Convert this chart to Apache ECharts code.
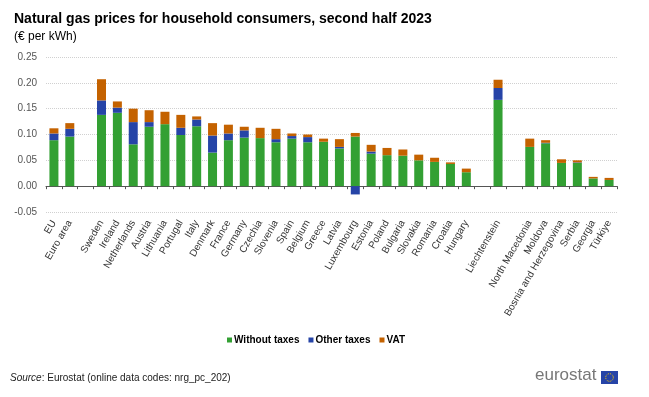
<!DOCTYPE html>
<html>
<head>
<meta charset="utf-8">
<script src="https://cdn.jsdelivr.net/npm/echarts@6/dist/echarts.min.js"></script>
<style>
  html, body { margin: 0; padding: 0; background: #fff; }
  #chart { width: 649px; height: 397px; }
</style>
</head>
<body>
<div id="chart"></div>
<script>
// categories (empty strings are the gaps between country groups)
const categories = ['EU', 'Euro area', '', 'Sweden', 'Ireland', 'Netherlands', 'Austria', 'Lithuania', 'Portugal',
    'Italy', 'Denmark', 'France', 'Germany', 'Czechia', 'Slovenia', 'Spain', 'Belgium', 'Greece', 'Latvia',
    'Luxembourg', 'Estonia', 'Poland', 'Bulgaria', 'Slovakia', 'Romania', 'Croatia', 'Hungary', '',
    'Liechtenstein', '', 'North Macedonia', 'Moldova', 'Bosnia and Herzegovina', 'Serbia', 'Georgia', 'Türkiye'];

const withoutTaxes = [0.089, 0.096, null, 0.138, 0.142, 0.081, 0.115, 0.120, 0.099, 0.116, 0.065, 0.089, 0.094,
    0.093, 0.085, 0.092, 0.085, 0.086, 0.073, 0.096, 0.063, 0.060, 0.059, 0.050, 0.047, 0.043, 0.027, null,
    0.167, null, 0.076, 0.083, 0.045, 0.045, 0.015, 0.012];
const otherTaxes = [0.013, 0.015, null, 0.028, 0.010, 0.043, 0.009, 0, 0.014, 0.013, 0.033, 0.013, 0.014,
    0, 0.006, 0.005, 0.010, 0, 0.003, -0.016, 0.004, 0, 0, 0, 0, 0, 0, null,
    0.023, null, 0, 0.001, 0, 0.001, 0, 0];
const vat = [0.010, 0.011, null, 0.041, 0.012, 0.026, 0.023, 0.024, 0.025, 0.006, 0.024, 0.017, 0.007,
    0.020, 0.020, 0.005, 0.005, 0.006, 0.015, 0.007, 0.013, 0.014, 0.012, 0.011, 0.008, 0.003, 0.007, null,
    0.016, null, 0.016, 0.005, 0.007, 0.004, 0.003, 0.004];

const chart = echarts.init(document.getElementById('chart'));
const font = 'Liberation Sans, Arial, sans-serif';

function barSeries(name, data, color) {
    return {
        name: name,
        type: 'bar',
        stack: 'total',
        barWidth: 9,
        data: data,
        itemStyle: { color: color },
        emphasis: { disabled: true }
    };
}

let option = {
    animation: false,
    textStyle: { fontFamily: font },
    title: [
        {
            text: 'Natural gas prices for household consumers, second half 2023',
            left: 9, top: 7,
            textStyle: { fontSize: 14, fontWeight: 'bold', color: '#000', fontFamily: font }
        },
        {
            text: '(€ per kWh)',
            left: 9, top: 26,
            textStyle: { fontSize: 12, fontWeight: 'normal', color: '#000', fontFamily: font }
        }
    ],
    legend: {
        left: 222, top: 330,
        icon: 'rect',
        itemWidth: 5, itemHeight: 5, itemGap: 9,
        textStyle: { fontSize: 10, fontWeight: 'bold', color: '#000', padding: [0, 0, 0, -3] },
        data: ['Without taxes', 'Other taxes', 'VAT']
    },
    grid: { left: 46, right: 32, top: 57, bottom: 185, containLabel: false },
    xAxis: [
        {
            // zero line with ticks
            type: 'category',
            data: categories,
            axisLine: { onZero: true, lineStyle: { color: '#555', width: 1 } },
            axisTick: { show: true, interval: 0, length: 3, lineStyle: { color: '#555' } },
            axisLabel: { show: false }
        },
        {
            // labels at the bottom of the plot
            type: 'category',
            data: categories,
            position: 'bottom',
            axisLine: { show: false, onZero: false },
            axisTick: { show: false },
            axisLabel: { interval: 0, rotate: 60, fontSize: 10, color: '#333', margin: 9 }
        }
    ],
    yAxis: {
        type: 'value',
        min: -0.05, max: 0.25, interval: 0.05,
        axisLine: { show: false },
        axisTick: { show: false },
        axisLabel: { fontSize: 10, color: '#555', margin: 9, formatter: v => v.toFixed(2) },
        splitLine: { lineStyle: { color: '#d0d0d0', type: [1, 1], width: 1 } }
    },
    series: [
        barSeries('Without taxes', withoutTaxes, '#33a033'),
        barSeries('Other taxes', otherTaxes, '#2644a7'),
        barSeries('VAT', vat, '#c46200')
    ],
    graphic: [
        {
            type: 'text', left: 10, top: 373,
            style: {
                rich: { i: { fontStyle: 'italic', fontSize: 10, fill: '#222', fontFamily: font },
                        n: { fontSize: 10, fill: '#222', fontFamily: font } },
                text: '{i|Source}{n|: Eurostat (online data codes: nrg_pc_202)}'
            }
        },
        {
            type: 'text', left: 535, top: 367,
            style: { text: 'eurostat', fontSize: 17, fill: '#777', fontFamily: font }
        },
        {
            type: 'rect', shape: { x: 601, y: 371, width: 17, height: 13 },
            style: { fill: '#2644a7' }
        },
        {
            type: 'circle', shape: { cx: 609.5, cy: 377.5, r: 3.8 },
            style: { fill: 'none', stroke: '#ffcc00', lineWidth: 1, lineDash: [1, 1] }
        }
    ]
};
chart.setOption(option);
</script>
</body>
</html>
